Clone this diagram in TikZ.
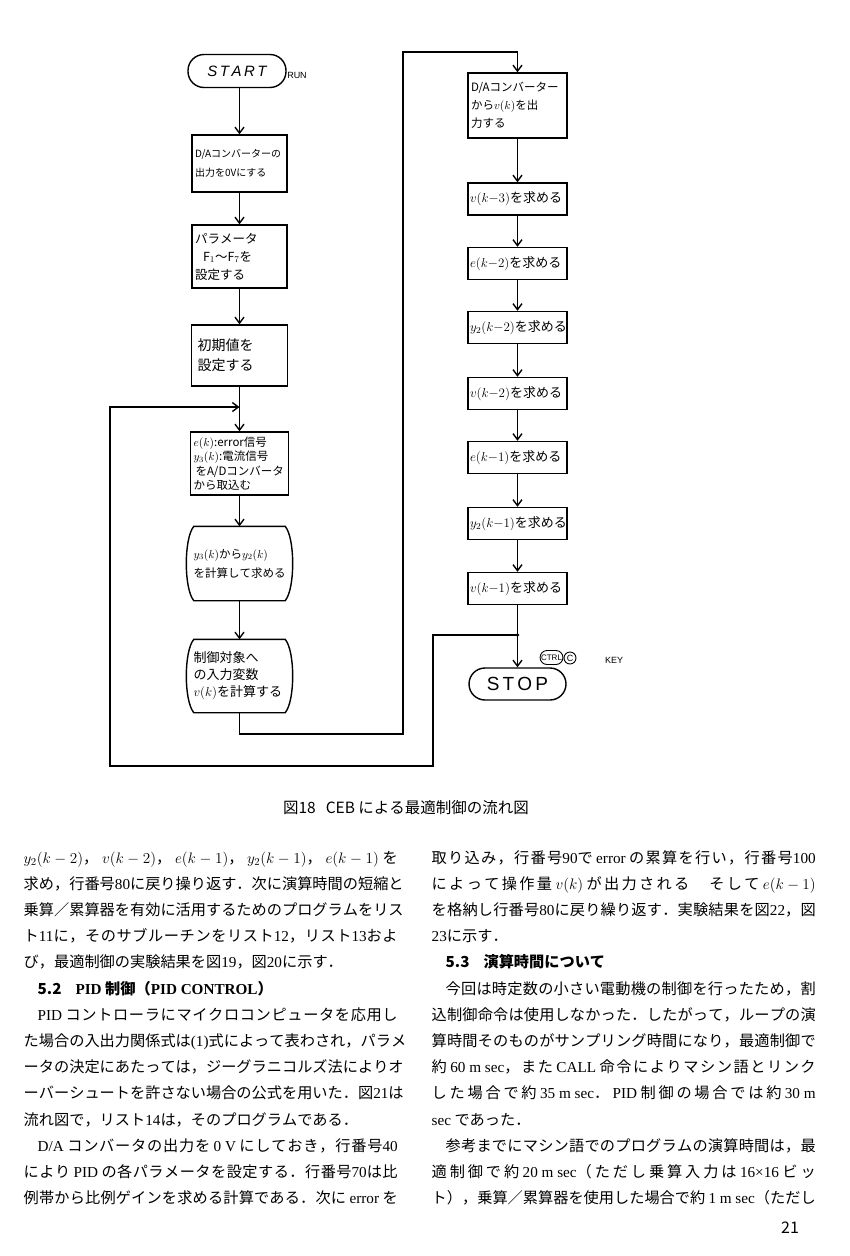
\RequirePackage{fix-cm}
\documentclass[tikz,border=0pt]{standalone}
\usepackage{fontspec}
\setmainfont{Noto Sans CJK JP}
\newfontfamily\enfont{Liberation Serif}
\newfontfamily\handfont{Liberation Sans}
\usetikzlibrary{arrows.meta}

% 和文字に文字クラス 1 を与え，字間に伸縮できるすき間を入れる（両端揃え用）
\makeatletter
\count@="3000
\loop \XeTeXcharclass\count@=1 \ifnum\count@<"30FF \advance\count@ 1 \repeat
\count@="4E00
\loop \XeTeXcharclass\count@=1 \ifnum\count@<"9FFF \advance\count@ 1 \repeat
\count@="FF01
\loop \XeTeXcharclass\count@=1 \ifnum\count@<"FF5E \advance\count@ 1 \repeat
\makeatother
\def\cjkst{0pt}
\XeTeXinterchartokenstate=1
\XeTeXinterchartoks 1 1 = {\nobreak\hskip 0pt plus \cjkst}
\XeTeXinterchartoks 0 1 = {\nobreak\hskip 0pt plus \cjkst}
\XeTeXinterchartoks 1 0 = {\nobreak\hskip 0pt plus \cjkst}

\newcommand{\bodyfont}{\fontsize{15.2pt}{18pt}\selectfont}
\newcommand{\fcsize}[2]{\fontsize{#1pt}{#2pt}\selectfont}
\newcommand{\en}[1]{{\enfont #1}}
\newcommand{\jl}[1]{{\def\cjkst{1fil}\makebox[374pt][s]{#1}}}
\newcommand{\jr}[1]{{\def\cjkst{1fil}\makebox[384pt][s]{#1}}}
\newcommand{\ind}{\hspace{14pt}}

\begin{document}
\begin{tikzpicture}[
    x=1pt, y=-1pt, % 1pt = 1 像素，y 轴向下
    line width=1.4pt,
    font=\bodyfont,
    arr/.style={-{Straight Barb[length=6pt, width=9pt]}},
    proc/.style={draw, inner xsep=3pt, inner ysep=2pt, text width=#1, align=left},
    proc/.default=90pt,
    bulge/.style={inner xsep=2pt, text width=92pt, align=left, minimum width=96pt},
    term/.style={draw, rounded corners=16pt, minimum width=98pt, minimum height=33pt},
    short/.style={proc=95pt, inner xsep=2pt, minimum height=32pt, font=\fcsize{13}{15}},
    bodyline/.style={anchor=base west, inner sep=0pt, font=\bodyfont}
    ]
    % --- 页面范围 ---
    \fill[white] (0,0) rectangle (850,1256);
    \useasboundingbox (0,0) rectangle (850,1256);

    % 1. 左列
    \node[term] (start) at (237,71) {\handfont\itshape\fcsize{15}{15}S\,T\,A\,R\,T};
    \node[font=\handfont\fcsize{9}{9}] (run) at (297,75) {RUN};
    \node[proc=89pt, minimum height=57pt, font=\fcsize{10}{19}] (da0) at (239.5,163.5)
        {D/Aコンバーターの\\出力を0Vにする};
    \node[proc=89pt, minimum height=63pt, font=\fcsize{12.5}{18}] (par) at (239.5,256.5)
        {パラメータ\\\hspace*{8pt}F$_1$～F$_7$を\\設定する};
    \node[proc=90pt, minimum height=61pt, font=\fcsize{14}{20}] (ini) at (239.5,355.5)
        {\hspace*{3pt}初期値を\\\hspace*{3pt}設定する};
    \node[proc=92pt, minimum height=63pt, font=\fcsize{11.5}{14.5}] (adin) at (239.5,463.5)
        {$e(k)$:error信号\\$y_3(k)$:電流信号\\\hspace*{2pt}をA/Dコンバータ\\から取込む};
    \node[bulge, minimum height=73pt, font=\fcsize{11.5}{19}] (calc) at (239.5,563.5)
        {$y_3(k)$から$y_2(k)$\\を計算して求める};
    \node[bulge, minimum height=72pt, font=\fcsize{13}{17}] (inp) at (239.5,676)
        {制御対象へ\\の入力変数\\$v(k)$を計算する};

    % 两个侧边外凸的框
    \foreach \b in {calc, inp} {
        \draw ([xshift=3pt]\b.north west) -- ([xshift=-3pt]\b.north east)
            .. controls +(10,12) and +(10,-12) .. ([xshift=-3pt]\b.south east)
            -- ([xshift=3pt]\b.south west)
            .. controls +(-10,-12) and +(-10,12) .. ([xshift=3pt]\b.north west) -- cycle;
    }

    % 2. 右列
    \node[proc=93pt, minimum height=65pt, font=\fcsize{11.5}{18}] (dout) at (517.5,105.5)
        {D/Aコンバーター\\から$v(k)$を出\\力する};
    \node[short] (v3)  at (517.5,199)   {$v(k{-}3)$を求める};
    \node[short] (e2)  at (517.5,263.5) {$e(k{-}2)$を求める};
    \node[short] (y2a) at (517.5,327.5) {$y_2(k{-}2)$を求める};
    \node[short] (v2)  at (517.5,393.5) {$v(k{-}2)$を求める};
    \node[short] (e1)  at (517.5,457.5) {$e(k{-}1)$を求める};
    \node[short] (y1)  at (517.5,523.5) {$y_2(k{-}1)$を求める};
    \node[short] (v1)  at (517.5,588.5) {$v(k{-}1)$を求める};
    \node[term, minimum width=97pt, minimum height=32pt] (stop) at (517.5,684)
        {\handfont\fcsize{19}{19}S\,T\,O\,P};
    \node[draw, rounded corners=7pt, line width=0.9pt, inner sep=1pt, minimum height=14pt,
          font=\handfont\fcsize{8}{8}] (ctrl) at (551.5,657.5) {CTRL};
    \node[draw, circle, line width=0.9pt, inner sep=0pt, minimum size=12pt,
          font=\handfont\fcsize{9}{9}] (ckey) at (570,658) {C};
    \node[font=\handfont\fcsize{9}{9}] (key) at (614,660) {KEY};

    % 3. 连线
    \coordinate (lowR)   at (403,734);
    \coordinate (topR)   at (403,52);
    \coordinate (jn)     at (v1.south |- 0,635);
    \coordinate (loopB)  at (433,766);
    \coordinate (loopC)  at (110,407);
    \coordinate (loopin) at (ini.south |- 0,407);

    \draw[arr] (da0.north |- start.south) -- (da0.north);
    \foreach \a/\b in {da0/par, par/ini, ini/adin, adin/calc, calc/inp} {
        \draw[arr] (\a.south) -- (\b.north);
    }
    \draw[arr] (inp.south) |- (lowR) -- (topR) -| (dout.north);
    \foreach \a/\b in {dout/v3, v3/e2, e2/y2a, y2a/v2, v2/e1, e1/y1, y1/v1, v1/stop} {
        \draw[arr] (\a.south) -- (\b.north);
    }
    \fill (jn) circle (1.8pt);
    \draw[arr] (jn) -| (loopB) -| (loopC) -- (loopin);

    % 4. 图题
    \node[font=\fcsize{15.5}{18}] (cap) at (406,808) {図18\hspace{10pt}CEB による最適制御の流れ図};

    % 5. 正文（左栏）
    \node[bodyline] (l1)  at (23,863)    {\jl{$y_2(k-2)$， $v(k-2)$， $e(k-1)$， $y_2(k-1)$， $e(k-1)$ を}};
    \node[bodyline] (l2)  at (23,889.2)  {\jl{求め，行番号\en{80}に戻り操り返す．次に演算時間の短縮と}};
    \node[bodyline] (l3)  at (23,915.4)  {\jl{乗算／累算器を有効に活用するためのプログラムをリス}};
    \node[bodyline] (l4)  at (23,941.6)  {\jl{ト\en{11}に，そのサブルーチンをリスト\en{12}，リスト\en{13}およ}};
    \node[bodyline] (l5)  at (23,967.8)  {び，最適制御の実験結果を図\en{19}，図\en{20}に示す．};
    \node[bodyline] (l6)  at (23,994)    {\bfseries\ind 5.2\hspace{14pt}\en{PID} 制御（\en{PID CONTROL}）};
    \node[bodyline] (l7)  at (23,1020.2) {\jl{\ind\en{PID} コントローラにマイクロコンピュータを応用し}};
    \node[bodyline] (l8)  at (23,1046.4) {\jl{た場合の入出力関係式は\en{(1)}式によって表わされ，パラメ}};
    \node[bodyline] (l9)  at (23,1072.6) {\jl{ータの決定にあたっては，ジーグラニコルズ法によりオ}};
    \node[bodyline] (l10) at (23,1098.8) {\jl{ーバーシュートを許さない場合の公式を用いた．図\en{21}は}};
    \node[bodyline] (l11) at (23,1125)   {流れ図で，リスト\en{14}は，そのプログラムである．};
    \node[bodyline] (l12) at (23,1151.2) {\jl{\ind\en{D/A} コンバータの出力を \en{0 V} にしておき，行番号\en{40}}};
    \node[bodyline] (l13) at (23,1177.4) {\jl{により \en{PID} の各パラメータを設定する．行番号\en{70}は比}};
    \node[bodyline] (l14) at (23,1203.6) {\jl{例帯から比例ゲインを求める計算である．次に \en{error} を}};

    % 6. 正文（右栏）
    \node[bodyline] (r1)  at (431,863)    {\jr{取り込み，行番号\en{90}で \en{error} の累算を行い，行番号\en{100}}};
    \node[bodyline] (r2)  at (431,889.2)  {\jr{によって操作量 $v(k)$ が出力される　そして $e(k-1)$}};
    \node[bodyline] (r3)  at (431,915.4)  {\jr{を格納し行番号\en{80}に戻り繰り返す．実験結果を図\en{22}，図}};
    \node[bodyline] (r4)  at (431,941.6)  {\en{23}に示す．};
    \node[bodyline] (r5)  at (431,967.8)  {\bfseries\ind 5.3\hspace{14pt}演算時間について};
    \node[bodyline] (r6)  at (431,994)    {\jr{\ind 今回は時定数の小さい電動機の制御を行ったため，割}};
    \node[bodyline] (r7)  at (431,1020.2) {\jr{込制御命令は使用しなかった．したがって，ループの演}};
    \node[bodyline] (r8)  at (431,1046.4) {\jr{算時間そのものがサンプリング時間になり，最適制御で}};
    \node[bodyline] (r9)  at (431,1072.6) {\jr{約 \en{60 m sec}，また \en{CALL} 命令によりマシン語とリンク}};
    \node[bodyline] (r10) at (431,1098.8) {\jr{した場合で約 \en{35 m sec}． \en{PID} 制御の場合では約 \en{30 m}}};
    \node[bodyline] (r11) at (431,1125)   {\en{sec} であった．};
    \node[bodyline] (r12) at (431,1151.2) {\jr{\ind 参考までにマシン語でのプログラムの演算時間は，最}};
    \node[bodyline] (r13) at (431,1177.4) {\jr{適制御で約 \en{20 m sec}（ただし乗算入力は \en{16×16} ビッ}};
    \node[bodyline] (r14) at (431,1203.6) {\jr{ト），乗算／累算器を使用した場合で約 \en{1 m sec}（ただし}};

    % 7. 页码
    \node[font=\fcsize{16}{18}] (pno) at (790,1228) {21};

\end{tikzpicture}
\end{document}
